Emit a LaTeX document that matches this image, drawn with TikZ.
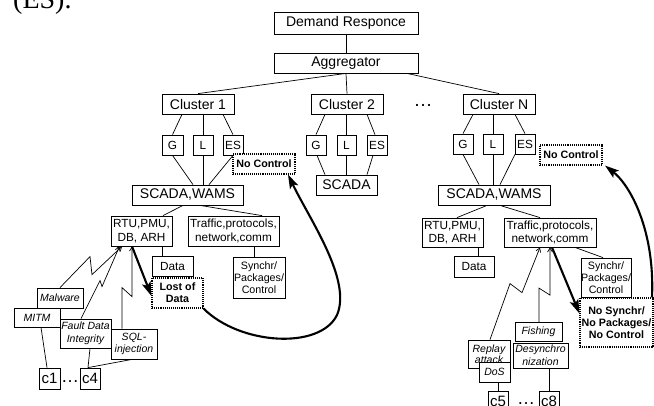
\documentclass[tikz,border=0pt]{standalone}
\usepackage{fontspec}
\setmainfont{Liberation Sans}
\newfontfamily\serifface{Liberation Serif}
\usetikzlibrary{arrows.meta}
\begin{document}
\begin{tikzpicture}[x=1pt,y=-1pt,
  box/.style={draw,line width=0.8pt,fill=white,inner sep=0pt,align=center},
  big/.style={box,font=\fontsize{14}{16}\selectfont},
  med/.style={box,font=\fontsize{11.8}{13.5}\selectfont},
  sm/.style={box,font=\fontsize{10.7}{12.3}\selectfont},
  att/.style={box,font=\fontsize{10.5}{12.6}\selectfont\itshape},
  bad/.style={draw,densely dotted,line width=1.1pt,fill=white,inner sep=0pt,align=center,font=\fontsize{10.7}{12.3}\selectfont\bfseries},
  link/.style={line width=0.7pt},
  zap/.style={line width=0.7pt,-{Straight Barb[length=4pt,width=5pt]}},
  fat/.style={line width=2.1pt,-{Stealth[length=14pt,width=9pt,inset=3pt]}},
  dotsA/.style={inner sep=0pt,font=\fontsize{19}{19}\selectfont},
  dotsB/.style={inner sep=0pt,font=\fontsize{18}{18}\selectfont}
]
\useasboundingbox (0,0) rectangle (654,405);
\node[font=\serifface\fontsize{28}{28}\selectfont,anchor=base west,inner sep=0pt] (es) at (13,8) {(ES).};

% top
\node[big,minimum width=144pt,minimum height=22pt] (dr) at (346,23) {Demand Responce};
\node[big,minimum width=144pt,minimum height=20pt] (agg) at (346,63) {Aggregator};
\node[big,minimum width=72pt,minimum height=20pt] (c1) at (198,104) {Cluster 1};
\node[big,minimum width=72pt,minimum height=20pt] (c2) at (347,104) {Cluster 2};
\node[big,minimum width=72pt,minimum height=20pt] (cN) at (499,104) {Cluster N};
\node[dotsA] (cdots) at (423,105) {…};

\draw[link] (dr.south) -- (agg.north);
\draw[link] (agg.south) -- (c1.north);
\draw[link] (agg.south) -- (c2.north);
\draw[link] ([xshift=61pt]agg.south) -- (cN.north);

% cluster 1
\node[med,minimum width=21pt,minimum height=20pt] (g1) at (172.5,145) {G};
\node[med,minimum width=20pt,minimum height=20pt] (l1) at (203,145) {L};
\node[med,minimum width=20pt,minimum height=20pt] (es1) at (233,145) {ES};
\node[big,minimum width=111pt,minimum height=20pt] (s1) at (187.5,195) {SCADA,WAMS};
\node[bad,minimum width=62pt,minimum height=20pt] (nc1) at (264,164) {No Control};
\draw[link] ([xshift=-16pt]c1.south) -- (g1.north);
\draw[link] (c1.south -| l1.north) -- (l1.north);
\draw[link] ([xshift=25pt]c1.south) -- (es1.north);
\draw[link] (g1.south) -- ([xshift=5.5pt]s1.north);
\draw[link] (l1.south) -- (l1.south |- s1.north);
\draw[link] (es1.south) -- ([xshift=21.5pt]s1.north);

\node[med,minimum width=61pt,minimum height=30pt] (rtu1) at (141.5,231) {RTU,PMU,\\DB, ARH};
\node[med,minimum width=91pt,minimum height=30pt] (tr1) at (233.5,231) {Traffic,protocols,\\network,comm};
\draw[link] ([xshift=-4.5pt]s1.south) -- ([xshift=21.5pt]rtu1.north);
\draw[link] ([xshift=12.5pt]s1.south) -- ([xshift=28.5pt]tr1.north);
\node[med,minimum width=41pt,minimum height=20pt] (d1) at (172.5,266) {Data};
\node[sm,minimum width=52pt,minimum height=41pt] (sy1) at (259,277.5) {Synchr/\\Packages/\\Control};
\draw[link] ([xshift=20.5pt]rtu1.south) -- +(0,10);
\draw[link] ([xshift=20.5pt]tr1.south) -- +(0,11);
\node[bad,minimum width=51pt,minimum height=30pt] (lost) at (177.5,293) {Lost of\\Data};

% attacks cluster 1
\node[att,minimum width=46pt,minimum height=20pt] (mal) at (60,298) {Malware};
\node[att,minimum width=46pt,minimum height=19pt] (mitm) at (37,317.5) {MITM};
\node[att,minimum width=51pt,minimum height=29pt] (fdi) at (85.5,333.5) {Fault Data\\Integrity};
\node[att,minimum width=46pt,minimum height=30pt] (sql) at (134,344) {SQL-\\injection};
\node[big,minimum width=21pt,minimum height=21pt,font=\fontsize{15}{16}\selectfont] (k1) at (49.5,378.5) {c1};
\node[big,minimum width=20pt,minimum height=21pt,font=\fontsize{15}{16}\selectfont] (k4) at (90,378.5) {c4};
\node[dotsB] (kdots) at (70,382) {…};
\draw[link] ([xshift=4pt]mitm.south) -- ([xshift=-2.5pt]k1.north);
\draw[link] ([xshift=4.5pt]fdi.south) -- ([xshift=-2pt]k4.north);
\draw[link] ([xshift=-2pt]sql.south) -- ([xshift=-2pt]k4.north);

\draw[zap] (mal.north) -- ++(30,-31) -- ++(2,18) -- ([xshift=-19.5pt]rtu1.south);
\draw[zap] ([xshift=-4.5pt]fdi.north) -- ++(19,-38) -- ++(2,6) -- ([xshift=-22pt]rtu1.south);
\draw[zap] ([xshift=-12pt]sql.north) -- ++(0,-41) -- ++(10,9) -- ([xshift=-9.5pt]rtu1.south);
\draw[fat] ([xshift=-9.5pt]rtu1.south) -- ([yshift=-3pt]lost.west);
\draw[fat] (lost.south east) .. controls (240,345) and (320,350) .. (337,315)
  .. controls (352,280) and (310,220) .. ([xshift=24pt]nc1.south);

% cluster 2
\node[med,minimum width=20pt,minimum height=20pt] (g2) at (316,145) {G};
\node[med,minimum width=19pt,minimum height=20pt] (l2) at (346.5,145) {L};
\node[med,minimum width=20pt,minimum height=20pt] (es2) at (377,145) {ES};
\node[big,minimum width=61pt,minimum height=20pt] (s2) at (346.5,185) {SCADA};
\draw[link] ([xshift=-22pt]c2.south) -- (g2.north);
\draw[link] (c2.south -| l2.north) -- (l2.north);
\draw[link] ([xshift=20pt]c2.south) -- ([xshift=-2pt]es2.north);
\draw[link] ([xshift=1pt]g2.south) -- ([xshift=-21.5pt]s2.north);
\draw[link] (l2.south) -- (l2.south |- s2.north);
\draw[link] ([xshift=-4pt]es2.south) -- ([xshift=20.5pt]s2.north);

% cluster N
\node[med,minimum width=20pt,minimum height=20pt] (gN) at (463,144) {G};
\node[med,minimum width=20pt,minimum height=20pt] (lN) at (493,144) {L};
\node[med,minimum width=20pt,minimum height=20pt] (esN) at (525,144) {ES};
\node[big,minimum width=112pt,minimum height=20pt] (sN) at (494,195) {SCADA,WAMS};
\node[bad,minimum width=62pt,minimum height=20pt] (ncN) at (571,155) {No Control};
\draw[link] ([xshift=-26pt]cN.south) -- (gN.north);
\draw[link] (cN.south -| lN.north) -- (lN.north);
\draw[link] ([xshift=16pt]cN.south) -- (esN.north);
\draw[link] (gN.south) -- ([xshift=-15pt]sN.north);
\draw[link] (lN.south) -- (lN.south |- sN.north);
\draw[link] ([xshift=-10pt]esN.south) -- ([xshift=6pt]sN.north);

\node[med,minimum width=61pt,minimum height=29pt] (rtuN) at (452.5,232.5) {RTU,PMU,\\DB, ARH};
\node[med,minimum width=92pt,minimum height=29pt] (trN) at (550,232.5) {Traffic,protocols,\\network,comm};
\draw[link] ([xshift=-7pt]sN.south) -- ([xshift=4.5pt]rtuN.north);
\draw[link] ([xshift=6pt]sN.south) -- ([xshift=-10pt]trN.north);
\node[med,minimum width=40pt,minimum height=21pt] (dN) at (474,266.5) {Data};
\node[sm,minimum width=50pt,minimum height=39pt] (syN) at (606,277.5) {Synchr/\\Packages/\\Control};
\draw[link] ([xshift=25.5pt]rtuN.south) -- +(0,9);
\draw[link] ([xshift=25pt]trN.south) -- ([xshift=-3pt]syN.north);
\node[bad,minimum width=73pt,minimum height=49pt] (nsN) at (616.5,322.5) {No Synchr/\\No Packages/\\No Control};

% attacks cluster N
\node[att,minimum width=47pt,minimum height=19pt] (fish) at (538.5,332) {Fishing};
\node[att,minimum width=55pt,minimum height=25pt] (desy) at (540.5,355.5) {Desynchro\\nization};
\node[att,minimum width=42pt,minimum height=28pt,font=\fontsize{10.5}{11.5}\selectfont\itshape] (rep) at (489,354) {Replay\\attack};
\node[att,minimum width=31pt,minimum height=20pt] (dos) at (494.5,372) {DoS};
\node[big,minimum width=20pt,minimum height=21pt,font=\fontsize{15}{16}\selectfont] (k5) at (498,401.5) {c5};
\node[big,minimum width=20pt,minimum height=21pt,font=\fontsize{15}{16}\selectfont] (k8) at (549,401.5) {c8};
\node[dotsB] (kdots2) at (526,404) {…};
\draw[link] (dos.south -| k5.north) -- (k5.north);
\draw[link] (desy.south -| k8.north) -- (k8.north);

\draw[zap] ([xshift=1pt]rep.north) -- ++(20,-56) -- ++(12,9) -- ([xshift=-10pt]trN.south);
\draw[zap] ([xshift=0.5pt]fish.north) -- ++(0,-34) -- ++(11,7) -- (trN.south);
\draw[fat] ([xshift=2pt]trN.south) -- ([yshift=9pt]nsN.west);
\draw[fat] ([xshift=35.5pt]nsN.north) .. controls (655,230) and (630,185) .. ([xshift=34pt]ncN.south);
\end{tikzpicture}
\end{document}
